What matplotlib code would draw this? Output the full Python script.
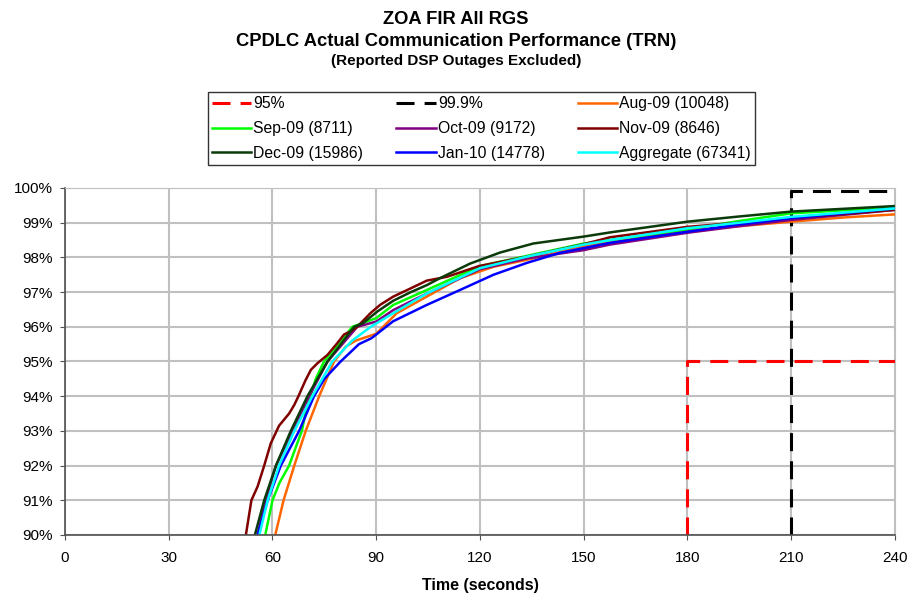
import matplotlib.pyplot as plt

plt.rcParams['font.family'] = ['Liberation Sans', 'DejaVu Sans']

# thresholds: (x, y) polylines of the 95% and 99.9% requirement boxes
req95_t = [180, 180, 240]
req95_y = [90, 95, 95]
req999_t = [210, 210, 240]
req999_y = [90, 99.9, 99.9]

aug_t = [60.8, 63.2, 66.3, 69.6, 73.5, 77.8, 81.2, 84, 90, 93, 95.9, 104.6, 114.2, 123.9, 133.5, 150, 165, 180, 195, 210, 225, 240]
aug_y = [90, 91, 92, 93, 94, 95, 95.43, 95.6, 95.8, 96.1, 96.39, 96.87, 97.4, 97.73, 97.93, 98.31, 98.57, 98.77, 98.9, 99.03, 99.15, 99.24]

sep_t = [57.9, 60, 62, 64.8, 67, 68.5, 69.5, 71, 72.5, 74.9, 79, 83.1, 90, 94.9, 104.6, 120, 150, 157.6, 180, 195, 210, 240]
sep_y = [90, 91, 91.5, 92, 92.6, 93, 93.5, 94, 94.5, 95, 95.5, 96, 96.25, 96.63, 97.06, 97.75, 98.4, 98.5, 98.81, 99.05, 99.27, 99.44]

oct_t = [55.7, 58, 61, 65.8, 70.6, 75.9, 84.5, 90, 94.9, 104.6, 120, 133.5, 150, 157.6, 180, 195, 210, 240]
oct_y = [90, 91, 92, 93, 94, 95, 96, 96.15, 96.48, 96.96, 97.66, 97.97, 98.21, 98.37, 98.71, 98.9, 99.08, 99.37]

nov_t = [52.3, 53.9, 55.7, 57.6, 59.5, 61.9, 64.8, 66.3, 67.5, 69.5, 71.1, 73, 75.9, 78.5, 80.7, 82.6, 84.5, 88.4, 91.1, 94.9, 99.8, 104.6, 110.4, 119.7, 133.5, 150, 157.6, 180, 195, 210, 240]
nov_y = [90, 91, 91.4, 92, 92.64, 93.15, 93.5, 93.75, 94.0, 94.45, 94.76, 94.95, 95.19, 95.5, 95.78, 95.87, 96.0, 96.4, 96.63, 96.87, 97.1, 97.33, 97.44, 97.75, 98.02, 98.38, 98.58, 98.88, 99.0, 99.13, 99.37]

dec_t = [54.9, 57.6, 61, 65.3, 70.1, 75.9, 83.6, 86.1, 90.3, 94.9, 100, 104.6, 108.4, 117.1, 125.8, 135.4, 150, 157.6, 180, 195, 210, 240]
dec_y = [90, 91, 92, 93, 94, 95, 96, 96.1, 96.44, 96.75, 97.0, 97.2, 97.4, 97.82, 98.14, 98.4, 98.6, 98.72, 99.03, 99.18, 99.32, 99.48]

jan_t = [55.7, 58.6, 62.4, 67.7, 72, 75, 79.7, 85, 88.6, 94.9, 104.6, 114.2, 123.9, 133.5, 143.1, 157.6, 180, 195, 210, 240]
jan_y = [90, 91, 92, 93, 94, 94.5, 95, 95.5, 95.67, 96.16, 96.63, 97.06, 97.5, 97.84, 98.13, 98.42, 98.74, 98.95, 99.13, 99.41]

agg_t = [56.2, 58.6, 61.9, 66.3, 71.5, 77.3, 83, 88.4, 94.9, 104.6, 120, 133.5, 150, 157.6, 180, 195, 210, 240]
agg_y = [90, 91, 92, 93, 94, 95, 95.6, 96.0, 96.39, 96.96, 97.69, 98.02, 98.37, 98.5, 98.84, 99.0, 99.17, 99.41]

labels = ['95%', '99.9%', 'Aug-09 (10048)', 'Sep-09 (8711)', 'Oct-09 (9172)',
          'Nov-09 (8646)', 'Dec-09 (15986)', 'Jan-10 (14778)', 'Aggregate (67341)']

fig = plt.figure(figsize=(9.12, 5.99), dpi=100)
ax = fig.add_axes([65 / 912, 1 - 535 / 599, 830 / 912, 347 / 599])

lines = []
lines += ax.plot(req95_t, req95_y, color='#ff0000', lw=2.2, ls=(0, (5.9, 3.3)))
lines += ax.plot(req999_t, req999_y, color='#000000', lw=2.2, ls=(0, (5.9, 3.3)))
series = [(aug_t, aug_y, '#ff6600'), (sep_t, sep_y, '#00ff00'), (oct_t, oct_y, '#800080'),
          (nov_t, nov_y, '#800000'), (dec_t, dec_y, '#0b3a0b'), (jan_t, jan_y, '#0000ff'),
          (agg_t, agg_y, '#00ffff')]
for t, y, c in series:
    lines += ax.plot(t, y, color=c, lw=1.8)

ax.set_xlim(0, 240)
ax.set_ylim(90, 100)
ax.set_xticks(range(0, 241, 30))
ax.set_yticks(range(90, 101))
ax.set_yticklabels([f'{v}%' for v in range(90, 101)])
ax.grid(True, color='#c0c0c0', lw=1.5)
ax.set_axisbelow(True)
ax.tick_params(labelsize=11, length=3.6, color='#505050')
ax.tick_params(axis='x', pad=8)
ax.tick_params(axis='y', pad=5)
for s in ['left', 'bottom']:
    ax.spines[s].set_color('#505050')
    ax.spines[s].set_linewidth(1.2)
for s in ['top', 'right']:
    ax.spines[s].set_color('#c0c0c0')
ax.set_xlabel('Time (seconds)', fontsize=11.5, fontweight='bold', labelpad=9)

fig.text(0.5, 1 - 20 / 599, 'ZOA FIR All RGS', ha='center', va='center', fontsize=13.2, fontweight='bold')
fig.text(0.5, 1 - 42 / 599, 'CPDLC Actual Communication Performance (TRN)', ha='center', va='center', fontsize=13.2, fontweight='bold')
fig.text(0.5, 1 - 61 / 599, '(Reported DSP Outages Excluded)', ha='center', va='center', fontsize=11, fontweight='bold')

order = [0, 3, 6, 1, 4, 7, 2, 5, 8]
leg = fig.legend([lines[i] for i in order], [labels[i] for i in order], ncol=3,
                 loc='center', bbox_to_anchor=(481.5 / 912, 1 - 128.5 / 599),
                 fontsize=11.3, frameon=True, fancybox=False, edgecolor='black',
                 handlelength=2.5, columnspacing=2.1, handletextpad=0.15,
                 labelspacing=0.62, borderpad=0.25)
leg.get_frame().set_linewidth(1)

fig.savefig('out.png', dpi=100)
